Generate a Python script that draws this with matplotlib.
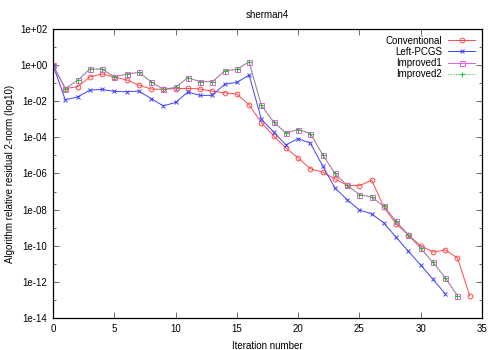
import matplotlib
matplotlib.use("Agg")
import matplotlib.pyplot as plt
import numpy as np
from matplotlib.ticker import FixedLocator, FuncFormatter

# relative residual 2-norm per iteration
conventional = [1.0, 5.0e-2, 6.3e-2, 2.2e-1, 3.2e-1, 2.2e-1, 1.5e-1, 7.8e-2, 4.7e-2, 4.5e-2,
                5.0e-2, 5.1e-2, 4.7e-2, 3.6e-2, 2.9e-2, 2.5e-2, 6.3e-3, 6.5e-4, 1.2e-4, 2.6e-5,
                7.1e-6, 1.8e-6, 1.2e-6, 5.0e-7, 2.2e-7, 2.1e-7, 4.3e-7, 1.35e-8, 1.6e-9, 3.9e-10,
                1.0e-10, 4.5e-11, 5.8e-11, 2.1e-11, 1.7e-13]
left_pcgs = [1.0, 1.2e-2, 1.7e-2, 4.1e-2, 4.5e-2, 3.5e-2, 3.3e-2, 3.6e-2, 1.4e-2, 5.5e-3,
             8.5e-3, 3.2e-2, 2.1e-2, 2.1e-2, 8.7e-2, 1.1e-1, 2.75e-1, 1.0e-3, 2.0e-4, 3.8e-5,
             8.5e-5, 4.7e-5, 2.6e-6, 1.6e-7, 3.5e-8, 9.5e-9, 5.8e-9, 1.8e-9, 2.9e-10, 4.9e-11,
             8.5e-12, 1.4e-12, 2.2e-13]
improved1 = [1.0, 5.0e-2, 1.4e-1, 6.0e-1, 6.0e-1, 2.2e-1, 3.2e-1, 3.9e-1, 1.2e-1, 4.5e-2,
             5.8e-2, 2.0e-1, 1.2e-1, 1.2e-1, 4.7e-1, 5.8e-1, 1.5, 5.8e-3, 7.1e-4, 1.7e-4,
             2.7e-4, 1.6e-4, 1.1e-5, 1.0e-6, 2.2e-7, 6.8e-8, 4.9e-8, 1.5e-8, 2.2e-9, 3.9e-10,
             7.1e-11, 1.2e-11, 1.7e-12, 1.7e-13]
improved2 = [1.0, 5.0e-2, 1.4e-1, 6.0e-1, 6.0e-1, 2.2e-1, 3.2e-1, 3.9e-1, 1.2e-1, 4.5e-2,
             5.8e-2, 2.0e-1, 1.2e-1, 1.2e-1, 4.7e-1, 5.8e-1, 1.5, 5.8e-3, 7.1e-4, 1.7e-4,
             2.7e-4, 1.6e-4, 1.1e-5, 1.0e-6, 2.2e-7, 6.8e-8, 4.9e-8, 1.5e-8, 2.2e-9, 3.9e-10,
             7.1e-11, 1.2e-11, 1.7e-12, 1.7e-13]

plt.rcParams['font.family'] = ['Liberation Sans', 'DejaVu Sans']
plt.rcParams['font.size'] = 7

fig = plt.figure(figsize=(5.0, 3.5), dpi=100)
ax = fig.add_axes([0.106, 0.0914, 0.858, 0.826])

ax.plot(np.arange(len(conventional)), conventional, color='#ff4848', lw=0.7,
        marker='o', ms=3.4, mfc='none', mew=0.7, label='Conventional')
ax.plot(np.arange(len(left_pcgs)), left_pcgs, color='#4040ff', lw=0.7,
        marker='x', ms=3.4, mew=0.7, label='Left-PCGS')
ax.plot(np.arange(len(improved1)), improved1, color='#e060e0', lw=0.7,
        marker='s', ms=3.6, mfc='none', mew=0.7, label='Improved1')
ax.plot(np.arange(len(improved2)), improved2, color='#20c020', lw=0.7, ls=':',
        marker='+', ms=3.6, mew=0.7, label='Improved2')

ax.set_yscale('log')
ax.set_xlim(0, 35)
ax.set_ylim(1e-14, 1e2)
ax.xaxis.set_major_locator(FixedLocator(np.arange(0, 36, 5)))
ax.yaxis.set_major_locator(FixedLocator([10.0 ** e for e in range(-14, 3, 2)]))
ax.yaxis.set_minor_locator(FixedLocator([10.0 ** e for e in range(-13, 2, 2)]))
ax.yaxis.set_major_formatter(FuncFormatter(lambda v, p: f"1e{int(round(np.log10(v))):+03d}"))
ax.yaxis.set_minor_formatter(FuncFormatter(lambda v, p: ""))
ax.tick_params(which='both', direction='in', top=True, right=True, width=0.6, color='#555555')
ax.tick_params(which='major', length=4, pad=4)
ax.tick_params(which='minor', length=2)
for s in ax.spines.values():
    s.set_linewidth(0.9)

ax.set_title('sherman4', fontsize=7, pad=8)
ax.set_xlabel('Iteration number', labelpad=5)
ax.set_ylabel('Algorithm relative residual 2-norm (log10)', labelpad=4)

ax.legend(loc='upper right', frameon=False, markerfirst=False, handlelength=2.8,
          handletextpad=0.6, labelspacing=0.12, borderaxespad=0.3, fontsize=7)

fig.savefig('out.png', dpi=100)
